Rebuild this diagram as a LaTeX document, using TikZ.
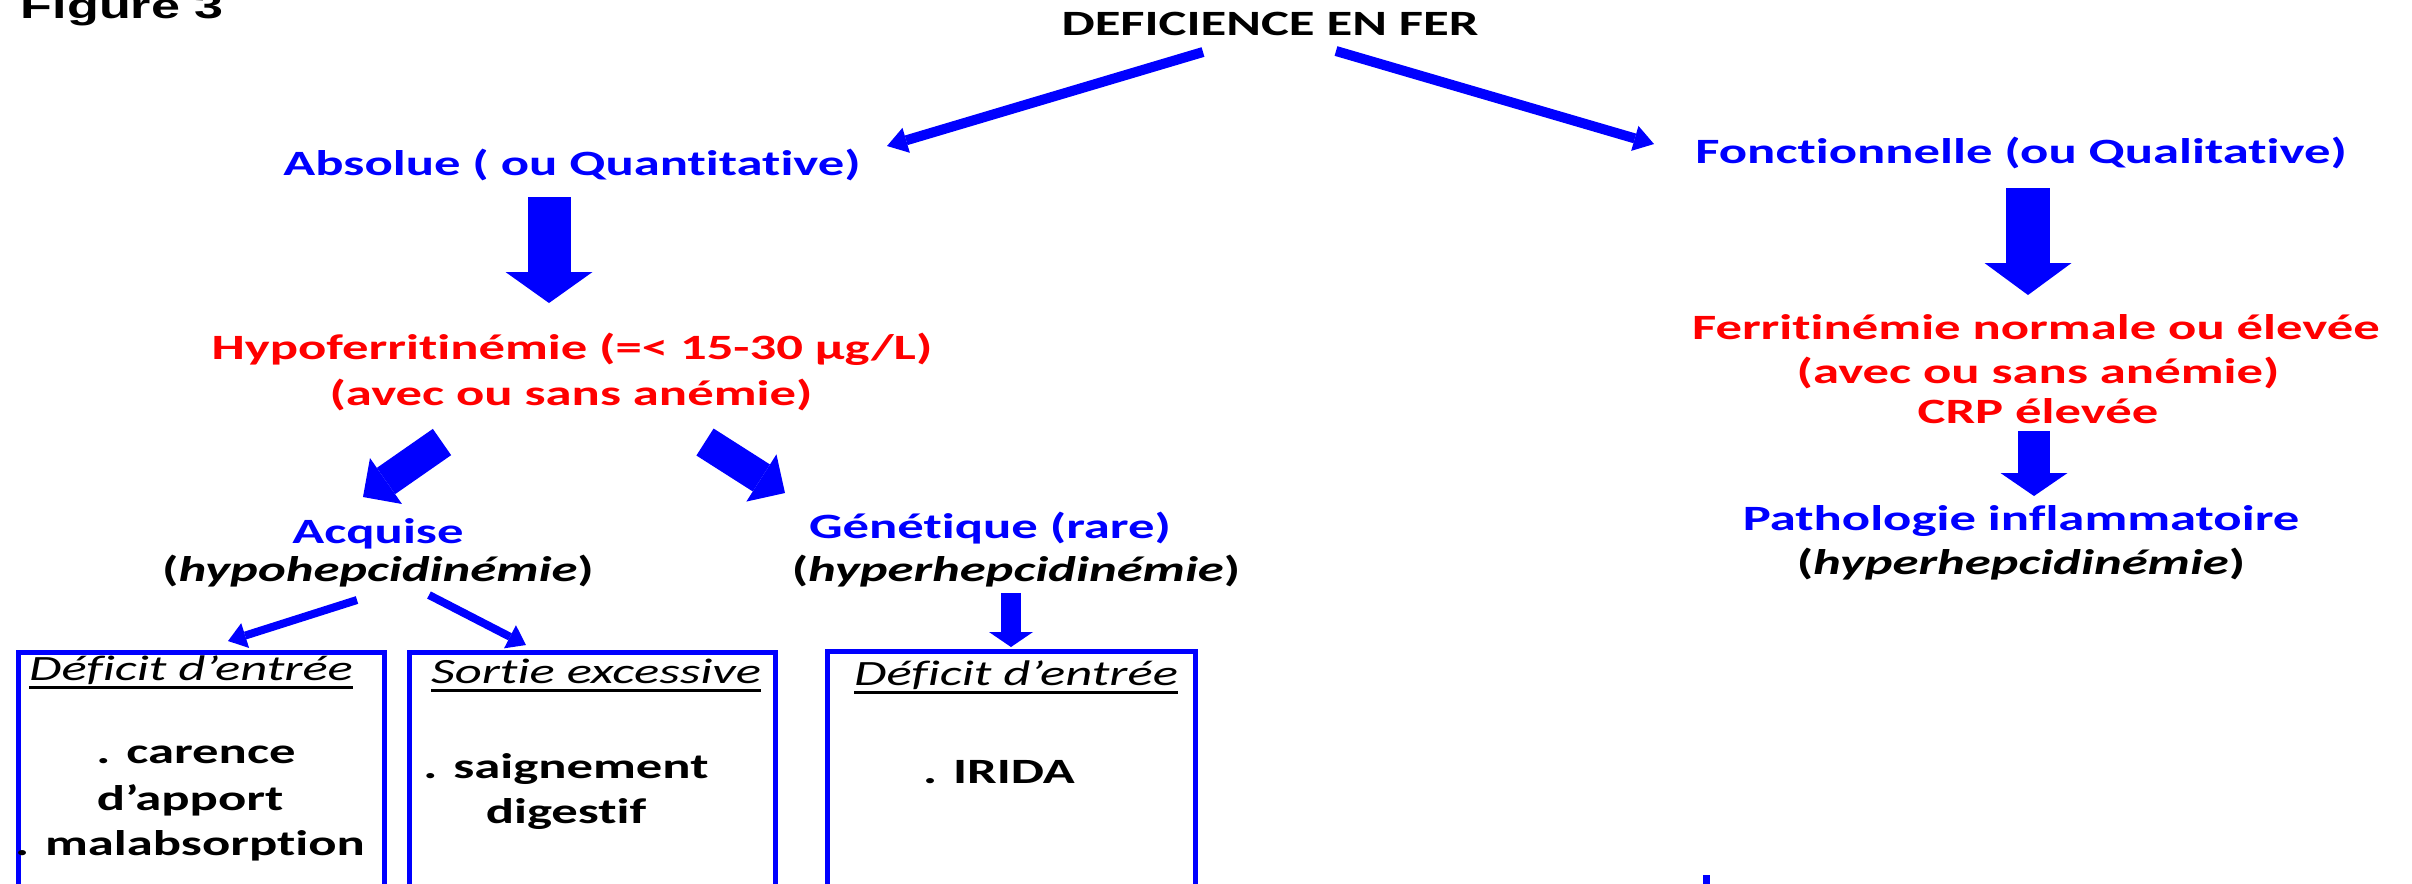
\documentclass[tikz,border=0pt]{standalone}
\usepackage{fontspec}
\setmainfont{Carlito}[FakeStretch=1.48, Ligatures=NoCommon, Contextuals=NoAlternate]
\newfontfamily\figfont{Liberation Sans}[FakeStretch=1.48, Ligatures=NoCommon]
\usetikzlibrary{arrows.meta}
\definecolor{pblue}{RGB}{0,0,255}
\definecolor{pred}{RGB}{255,0,0}
\tikzset{
  txt/.style={inner sep=0pt, outer sep=0pt, anchor=base, font=\fontsize{8.9}{10}\selectfont\bfseries},
  bluetxt/.style={txt, text=pblue},
  redtxt/.style={txt, text=pred},
  blacktxt/.style={txt, text=black},
  hdrtxt/.style={inner sep=0pt, outer sep=0pt, anchor=base, text=black, font=\fontsize{8.9}{10}\selectfont\itshape},
  ulline/.style={draw=black, line width=0.75pt},
  boxline/.style={draw=pblue, line width=1.25pt},
  blockarr/.style n args={3}{draw=pblue, line width=#1, -{Triangle[length=#3, width=#2, line width=0pt]}},
}
\begin{document}
\begin{tikzpicture}[x=0.25pt, y=-0.25pt]
\useasboundingbox (0,0) rectangle (2412,883);
\clip (0,0) rectangle (2412,883);

% texts
\node[blacktxt, anchor=base west, font=\figfont\fontsize{8.8}{10}\selectfont\bfseries] (fig) at (21,18) {Figure 3};
\node[blacktxt] (def) at (1270,35) {DEFICIENCE EN FER};
\node[bluetxt] (abs) at (572,175) {Absolue ( ou Quantitative)};
\node[bluetxt] (fon) at (2021,163) {Fonctionnelle (ou Qualitative)};
\node[redtxt] (hypa) at (572,359) {Hypoferritinémie (=< 15-30 µg/L)};
\node[redtxt] (hypb) at (571,405) {(avec ou sans anémie)};
\node[redtxt] (fera) at (2036,339) {Ferritinémie normale ou élevée};
\node[redtxt] (ferb) at (2038,383) {(avec ou sans anémie)};
\node[redtxt] (ferc) at (2038,423) {CRP élevée};
\node[bluetxt] (pata) at (2021,530) {Pathologie inflammatoire};
\node[blacktxt] (patb) at (2021,574) {(\textit{hyperhepcidinémie})};
\node[bluetxt] (acqa) at (378,543) {Acquise};
\node[blacktxt] (acqb) at (378,581) {(\textit{hypohepcidinémie})};
\node[bluetxt] (gena) at (990,538) {Génétique (rare)};
\node[blacktxt] (genb) at (1016,581) {(\textit{hyperhepcidinémie})};

% boxes
\draw[boxline] (18.5,652.5) rectangle (384.5,950);
\draw[boxline] (409.5,652.5) rectangle (775.5,950);
\draw[boxline] (827.5,651.5) rectangle (1195.5,950);
\fill[pblue] (1703,875) rectangle (1710,890);

\node[hdrtxt] (hda) at (191,680) {Déficit d’entrée};
\node[hdrtxt] (hdb) at (596,683) {Sortie excessive};
\node[hdrtxt] (hdc) at (1016,685) {Déficit d’entrée};
\foreach \h in {hda,hdb,hdc}{
  \draw[ulline] ([yshift=-1.75pt]\h.base west) -- ([yshift=-1.75pt]\h.base east);
}
\node[blacktxt] (boa) at (196,763) {. carence};
\node[blacktxt] (bob) at (190,810) {d’apport};
\node[blacktxt] (boc) at (190,855) {. malabsorption};
\node[blacktxt] (bod) at (566,778) {. saignement};
\node[blacktxt] (boe) at (566,823) {digestif};
\node[blacktxt] (bof) at (999,783) {. IRIDA};

% connector end points
\coordinate (t1s) at (1203,52);  \coordinate (t1e) at (887,146);
\coordinate (t2s) at (1336,51);  \coordinate (t2e) at (1654,144);
\coordinate (b1s) at (549,197);  \coordinate (b1e) at (549,303);
\coordinate (b2s) at (2028,188); \coordinate (b2e) at (2028,295);
\coordinate (b3s) at (2034,431); \coordinate (b3e) at (2034,496);
\coordinate (d1s) at (442,442);  \coordinate (d1e) at (363,497);
\coordinate (d2s) at (705,442);  \coordinate (d2e) at (785,493);
\coordinate (s1s) at (357,600);  \coordinate (s1e) at (228,641);
\coordinate (s2s) at (429,595);  \coordinate (s2e) at (526,645);
\coordinate (g1s) at (1011,593); \coordinate (g1e) at (1011,647);

% connectors
\draw[blockarr={2.5pt}{6.5pt}{5pt}] (t1s) -- (t1e);
\draw[blockarr={2.5pt}{6.5pt}{5pt}] (t2s) -- (t2e);
\draw[blockarr={10.75pt}{21.75pt}{7.75pt}] (b1s) -- (b1e);
\draw[blockarr={11pt}{21.75pt}{8pt}] (b2s) -- (b2e);
\draw[blockarr={8pt}{16.75pt}{5.75pt}] (b3s) -- (b3e);
\draw[blockarr={8pt}{14pt}{7pt}] (d1s) -- (d1e);
\draw[blockarr={8pt}{14pt}{7pt}] (d2s) -- (d2e);
\draw[blockarr={2pt}{6.5pt}{4.5pt}] (s1s) -- (s1e);
\draw[blockarr={2pt}{6.5pt}{4.5pt}] (s2s) -- (s2e);
\draw[blockarr={5pt}{11pt}{3.75pt}] (g1s) -- (g1e);
\end{tikzpicture}
\end{document}
